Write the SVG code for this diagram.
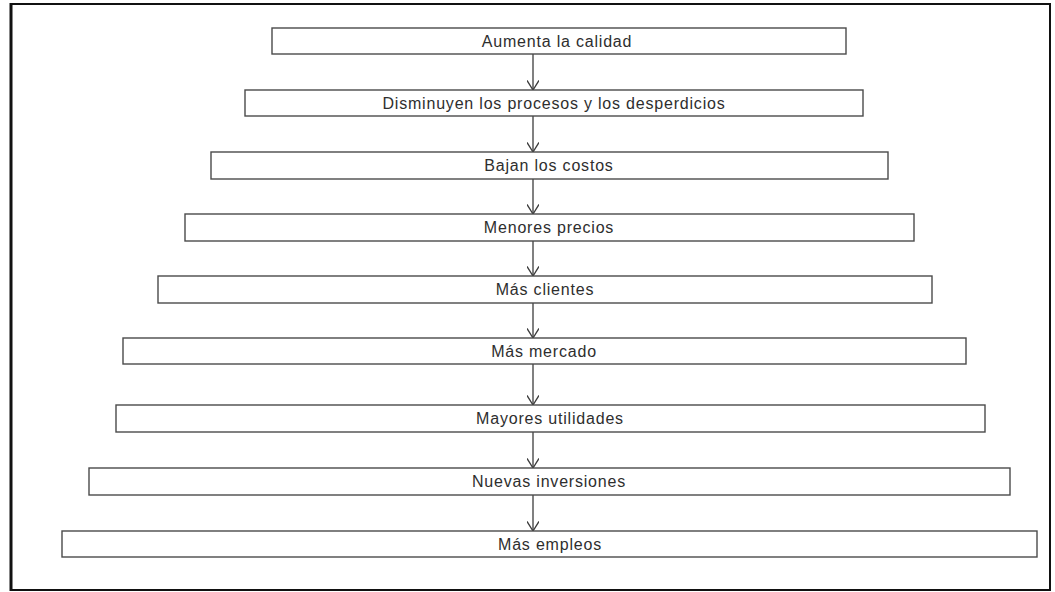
<svg xmlns="http://www.w3.org/2000/svg" width="1055" height="592" viewBox="0 0 1055 592">
  <style>
    .box rect { fill: #ffffff; stroke: #4a4a4a; stroke-width: 1.4; }
    .box text { font-family: "Liberation Sans", Arial, sans-serif; font-size: 16px; fill: #2e2e2e; text-anchor: middle; letter-spacing: 0.8px; }
    .conn line { stroke: #3c3c3c; stroke-width: 1.3; fill: none; marker-end: url(#vhead); }
  </style>
  <defs>
    <!-- open V arrowhead, drawn along +x so orient="auto" points it down the line -->
    <marker id="vhead" viewBox="0 0 10 12" refX="9.6" refY="6" markerWidth="10" markerHeight="12" markerUnits="userSpaceOnUse" orient="auto">
      <path d="M0,0 L9.6,6 L0,12" fill="none" stroke="#3c3c3c" stroke-width="1.3"/>
    </marker>
  </defs>
  <rect width="1055" height="592" fill="#ffffff"/>
  <!-- outer frame -->
  <rect x="11" y="4" width="1039" height="586" fill="none" stroke="#111111" stroke-width="2"/>
  <line x1="11" y1="3" x2="11" y2="591" stroke="#111111" stroke-width="3"/>

  <g class="conn">
    <line x1="533" y1="54" x2="533" y2="90"/>
    <line x1="533" y1="116" x2="533" y2="152"/>
    <line x1="533" y1="179" x2="533" y2="214"/>
    <line x1="533" y1="241" x2="533" y2="276"/>
    <line x1="533" y1="303" x2="533" y2="338"/>
    <line x1="533" y1="364" x2="533" y2="405"/>
    <line x1="533" y1="432" x2="533" y2="468"/>
    <line x1="533" y1="495" x2="533" y2="531"/>
  </g>

  <g id="n1" class="box"><rect x="272" y="28" width="574" height="26"/><text x="557" y="47">Aumenta la calidad</text></g>
  <g id="n2" class="box"><rect x="245" y="90" width="618" height="26"/><text x="554" y="109">Disminuyen los procesos y los desperdicios</text></g>
  <g id="n3" class="box"><rect x="211" y="152" width="677" height="27"/><text x="549" y="171">Bajan los costos</text></g>
  <g id="n4" class="box"><rect x="185" y="214" width="729" height="27"/><text x="549" y="233">Menores precios</text></g>
  <g id="n5" class="box"><rect x="158" y="276" width="774" height="27"/><text x="545" y="295">Más clientes</text></g>
  <g id="n6" class="box"><rect x="123" y="338" width="843" height="26"/><text x="544" y="357">Más mercado</text></g>
  <g id="n7" class="box"><rect x="116" y="405" width="869" height="27"/><text x="550" y="424">Mayores utilidades</text></g>
  <g id="n8" class="box"><rect x="89" y="468" width="921" height="27"/><text x="549" y="487">Nuevas inversiones</text></g>
  <g id="n9" class="box"><rect x="62" y="531" width="975" height="26"/><text x="550" y="550">Más empleos</text></g>
</svg>
